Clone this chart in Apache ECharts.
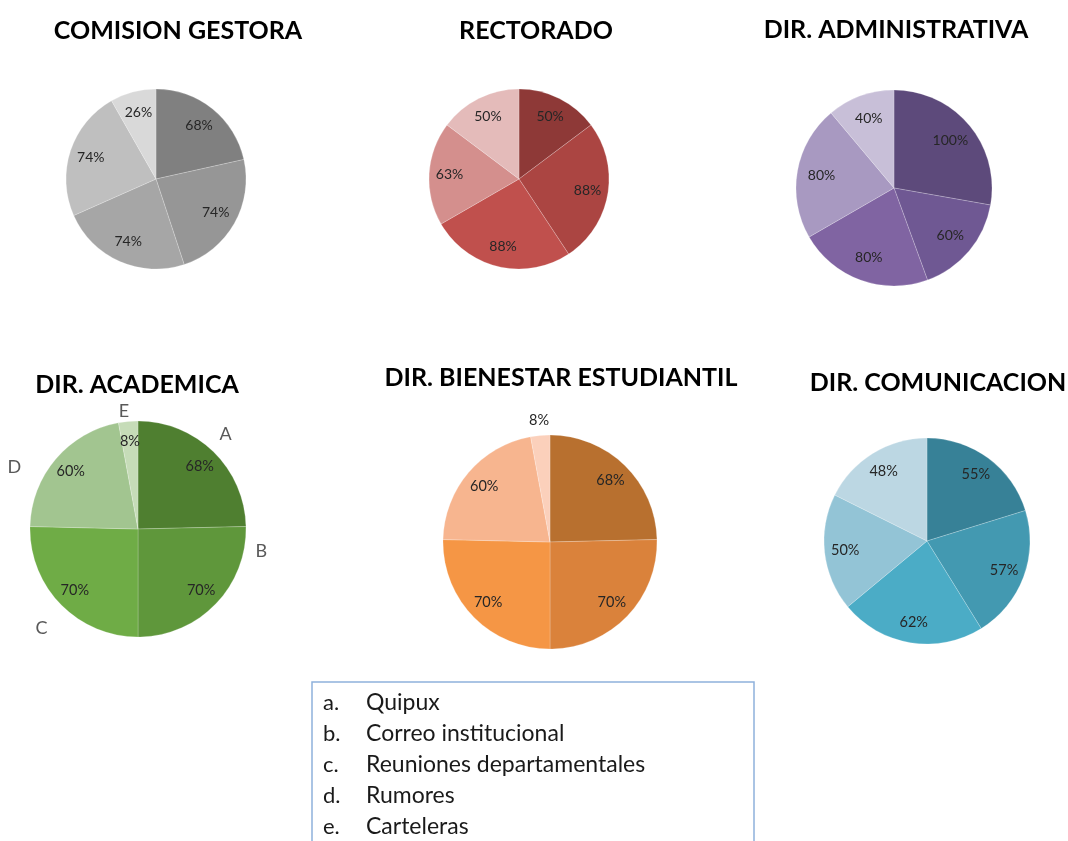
<!DOCTYPE html>
<html>
<head>
<meta charset="utf-8">
<title>Medios de comunicación por dependencia</title>
<script src="https://cdn.jsdelivr.net/npm/echarts@6/dist/echarts.min.js"></script>
<style>
  html, body { margin: 0; padding: 0; background: #ffffff; }
  #chart { width: 1068px; height: 841px; }
</style>
</head>
<body>
<div id="chart"></div>
<script>
// Communication channels (slice order A..E) and their list markers
const categories = ['Quipux', 'Correo institucional', 'Reuniones departamentales', 'Rumores', 'Carteleras'];
const listMarks = ['a', 'b', 'c', 'd', 'e'];

// Department titles
const departments = ['COMISION GESTORA', 'RECTORADO', 'DIR. ADMINISTRATIVA',
                     'DIR. ACADEMICA', 'DIR. BIENESTAR ESTUDIANTIL', 'DIR. COMUNICACION'];

// Percentage of staff using each channel, per department
const comisionGestora   = [68, 74, 74, 74, 26];
const rectorado         = [50, 88, 88, 63, 50];
const dirAdministrativa = [100, 60, 80, 80, 40];
const dirAcademica      = [68, 70, 70, 60, 8];
const dirBienestar      = [68, 70, 70, 60, 8];
const dirComunicacion   = [55, 57, 62, 50, 48];

const values = [comisionGestora, rectorado, dirAdministrativa, dirAcademica, dirBienestar, dirComunicacion];

// Panel layout and palettes
const FONT = 'Lato, "Open Sans", sans-serif';
const panels = [
  { center: [156, 179], r: 90,  title: [178, 31],  labelAt: 0.73, fs: 14,
    colors: ['#808080', '#969696', '#a6a6a6', '#bfbfbf', '#d9d9d9'] },
  { center: [519, 179], r: 90,  title: [536, 31],  labelAt: 0.74, fs: 14,
    colors: ['#8e3937', '#ab4542', '#c0504d', '#d48f8d', '#e4bbba'] },
  { center: [894, 188], r: 98,  title: [896, 30],  labelAt: 0.72, fs: 14,
    colors: ['#5d4a7b', '#6f5893', '#8064a2', '#a899c1', '#c8bfd8'] },
  { center: [138, 529], r: 108, title: [137, 385], labelAt: 0.79, fs: 14.5,
    colors: ['#4f7f30', '#5f973b', '#6fac46', '#a2c590', '#c6dcb8'] },
  { center: [550, 542], r: 107, title: [561, 378], labelAt: 0.78, fs: 14.5,
    colors: ['#b8702f', '#da823b', '#f59645', '#f7b58f', '#fbd0bb'] },
  { center: [927, 541], r: 103, title: [938, 383], labelAt: 0.77, fs: 14.5,
    colors: ['#378197', '#4399b1', '#4bacc6', '#93c4d6', '#bcd7e3'] }
];

// Nudges for the letter tags around the academic pie
const letterNudge = [[-1, -10], [33, -60], [-6, 17], [-27, 15], [2, 0]];

const series = [];
values.forEach((vals, i) => {
  const p = panels[i];
  const data = vals.map((v, k) => ({
    name: categories[k],
    value: v,
    itemStyle: { color: p.colors[k] }
  }));

  // Filled pie
  const base = {
    type: 'pie',
    center: p.center,
    radius: [0, p.r],
    startAngle: 90,
    clockwise: true,
    silent: true,
    avoidLabelOverlap: false,
    itemStyle: { borderColor: 'rgba(255,255,255,0.35)', borderWidth: 0.6 },
    label: { show: false },
    labelLine: { show: false },
    data: data
  };
  if (i === 3) {
    // Letter tags A..E outside the academic pie
    base.label = {
      show: true,
      position: 'outside',
      formatter: (prm) => listMarks[prm.dataIndex].toUpperCase(),
      color: '#595959',
      fontFamily: FONT,
      fontSize: 18,
      distanceToLabelLine: 0
    };
    base.labelLine = { show: false, length: 10, length2: 0 };
    base.labelLayout = (prm) => ({ dx: letterNudge[prm.dataIndex][0], dy: letterNudge[prm.dataIndex][1] });
  }
  series.push(base);

  // Transparent ring carrying the percentage labels
  const r0 = Math.max(0, (2 * p.labelAt - 1) * p.r);
  const ring = {
    type: 'pie',
    center: p.center,
    radius: [r0, p.r],
    startAngle: 90,
    clockwise: true,
    silent: true,
    avoidLabelOverlap: false,
    itemStyle: { color: 'rgba(0,0,0,0)', borderWidth: 0 },
    label: {
      show: true,
      position: 'inside',
      formatter: (prm) => prm.value + '%',
      color: '#262626',
      fontFamily: FONT,
      fontSize: p.fs
    },
    labelLine: { show: false },
    data: vals.map((v, k) => ({ name: categories[k], value: v }))
  };
  if (i === 4) {
    // smallest slice of the welfare pie gets its tag just above the rim
    ring.labelLayout = (prm) => (prm.dataIndex === 4 ? { dx: -3, dy: -36 } : {});
  }
  series.push(ring);
});

// Titles
const graphics = departments.map((t, i) => ({
  type: 'text',
  x: panels[i].title[0],
  y: panels[i].title[1],
  silent: true,
  style: {
    text: t,
    fill: '#000000',
    font: 'bold 25px ' + FONT,
    textAlign: 'center',
    textVerticalAlign: 'middle'
  }
}));

// Channel key box
graphics.push({
  type: 'rect',
  silent: true,
  shape: { x: 312, y: 682, width: 442, height: 180 },
  style: { fill: 'none', stroke: '#8eb1dc', lineWidth: 1.5 }
});
categories.forEach((c, k) => {
  const y = 703 + k * 31;
  graphics.push({
    type: 'text', x: 323, y: y, silent: true,
    style: { text: listMarks[k] + '.', fill: '#1a1a1a', font: '22px ' + FONT, textAlign: 'left', textVerticalAlign: 'middle' }
  });
  graphics.push({
    type: 'text', x: 366, y: y, silent: true,
    style: { text: c, fill: '#1a1a1a', font: '23px ' + FONT, textAlign: 'left', textVerticalAlign: 'middle' }
  });
});

const chart = echarts.init(document.getElementById('chart'), null, { renderer: 'canvas' });
chart.setOption({
  backgroundColor: '#ffffff',
  animation: false,
  series: series,
  graphic: graphics
});
</script>
</body>
</html>
